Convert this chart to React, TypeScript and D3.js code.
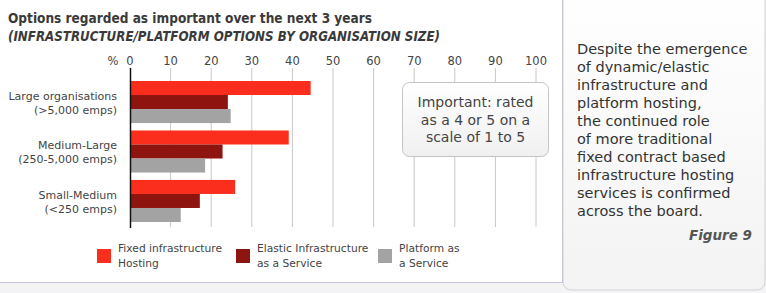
import React from "react";
import * as d3 from "d3";

const categories = [
  ["Large organisations", "(>5,000 emps)"],
  ["Medium-Large", "(250-5,000 emps)"],
  ["Small-Medium", "(<250 emps)"],
];
const seriesNames = [
  ["Fixed infrastructure", "Hosting"],
  ["Elastic Infrastructure", "as a Service"],
  ["Platform as", "a Service"],
];
const fixedHosting = [44.5, 39.1, 25.9];
const elasticIaaS = [24.1, 22.8, 17.2];
const paas = [24.8, 18.5, 12.5];
const ticks = [0, 10, 20, 30, 40, 50, 60, 70, 80, 90, 100];
const colors = ["#fb2d1c", "#8e1410", "#a3a3a3"];
const noteLines = ["Important: rated", "as a 4 or 5 on a", "scale of 1 to 5"];
const sideText = [
  "Despite the emergence",
  "of dynamic/elastic",
  "infrastructure and",
  "platform hosting,",
  "the continued role",
  "of more traditional",
  "fixed contract based",
  "infrastructure hosting",
  "services is confirmed",
  "across the board.",
];

const FONT = "'DejaVu Sans', sans-serif";

export default function App() {
  const series = [fixedHosting, elasticIaaS, paas];
  const x = d3.scaleLinear().domain([0, 100]).range([130, 536]);
  const y0 = d3
    .scaleBand<number>()
    .domain(categories.map((_, i) => i))
    .range([81, 222])
    .paddingInner(0.15)
    .paddingOuter(0);
  const y1 = d3
    .scaleBand<number>()
    .domain(series.map((_, i) => i))
    .range([0, y0.bandwidth()]);

  return (
    <svg
      width={766}
      height={293}
      style={{ position: "absolute", left: 0, top: 0, fontFamily: FONT }}
    >
      <defs>
        <linearGradient id="sideG" x1="0" y1="0" x2="0" y2="1">
          <stop offset="0" stopColor="#ffffff" />
          <stop offset="1" stopColor="#f3f3f3" />
        </linearGradient>
        <linearGradient id="noteG" x1="0" y1="0" x2="0" y2="1">
          <stop offset="0" stopColor="#ffffff" />
          <stop offset="1" stopColor="#f0f0f0" />
        </linearGradient>
      </defs>
      <rect x={0} y={0} width={766} height={293} fill="#f3f3f5" />
      <rect
        x={563}
        y={-10}
        width={202}
        height={300}
        rx={8}
        fill="url(#sideG)"
        stroke="#d2d2d2"
      />
      <rect x={0} y={0} width={562} height={282} fill="#ffffff" />
      <line x1={562.5} y1={0} x2={562.5} y2={282} stroke="#c6c6da" />
      <line x1={0} y1={282.5} x2={563} y2={282.5} stroke="#c6c6da" />

      <text
        x={8}
        y={23}
        fontSize={14.5}
        fontWeight="bold"
        fill="#3a3a3a"
        textLength={364}
        lengthAdjust="spacingAndGlyphs"
      >
        Options regarded as important over the next 3 years
      </text>
      <text
        x={8}
        y={41}
        fontSize={14.5}
        fontWeight="bold"
        fontStyle="italic"
        fill="#3a3a3a"
        textLength={432}
        lengthAdjust="spacingAndGlyphs"
      >
        (INFRASTRUCTURE/PLATFORM OPTIONS BY ORGANISATION SIZE)
      </text>

      {/* grid */}
      {ticks.map((t) => (
        <g key={t}>
          {t > 0 && (
            <line
              x1={x(t)}
              x2={x(t)}
              y1={68}
              y2={227}
              stroke="#c8c8c8"
              strokeWidth={1}
            />
          )}
          <text
            x={x(t)}
            y={65}
            textAnchor="middle"
            fontSize={11.5}
            fill="#444"
          >
            {t}
          </text>
        </g>
      ))}
      <text x={113} y={65} textAnchor="middle" fontSize={11.5} fill="#444">
        %
      </text>

      {/* bars */}
      {categories.map((cat, ci) => (
        <g key={ci} transform={`translate(0,${y0(ci)})`}>
          {series.map((s, si) => (
            <rect
              key={si}
              x={x(0)}
              y={y1(si)}
              width={x(s[ci]) - x(0)}
              height={y1.bandwidth()}
              fill={colors[si]}
            />
          ))}
          <text
            x={117}
            y={y0.bandwidth() / 2 - 2}
            textAnchor="end"
            fontSize={11}
            fill="#444"
          >
            {cat[0]}
          </text>
          <text
            x={117}
            y={y0.bandwidth() / 2 + 12}
            textAnchor="end"
            fontSize={11}
            fill="#444"
          >
            {cat[1]}
          </text>
        </g>
      ))}
      <line x1={130.5} x2={130.5} y1={68} y2={228} stroke="#111" strokeWidth={1.5} />

      {/* note */}
      <rect
        x={402.5}
        y={82.5}
        width={146}
        height={74}
        rx={7}
        fill="url(#noteG)"
        stroke="#c4c4c4"
      />
      {noteLines.map((l, i) => (
        <text
          key={i}
          x={475.5}
          y={107 + i * 17.5}
          textAnchor="middle"
          fontSize={14}
          fill="#444"
        >
          {l}
        </text>
      ))}

      {/* legend */}
      {seriesNames.map((n, i) => {
        const lx = [97, 236, 378][i];
        return (
          <g key={i}>
            <rect x={lx} y={249} width={14} height={14} fill={colors[i]} />
            <text x={lx + 21} y={252} fontSize={10.7} fill="#444">
              {n[0]}
            </text>
            <text x={lx + 21} y={267} fontSize={10.7} fill="#444">
              {n[1]}
            </text>
          </g>
        );
      })}

      {/* side text */}
      {sideText.map((l, i) => (
        <text key={i} x={577} y={54 + i * 18} fontSize={14.5} fill="#333">
          {l}
        </text>
      ))}
      <text
        x={752}
        y={240}
        textAnchor="end"
        fontSize={13.5}
        fontWeight="900"
        fontStyle="italic"
        fill="#555"
      >
        Figure 9
      </text>
    </svg>
  );
}
